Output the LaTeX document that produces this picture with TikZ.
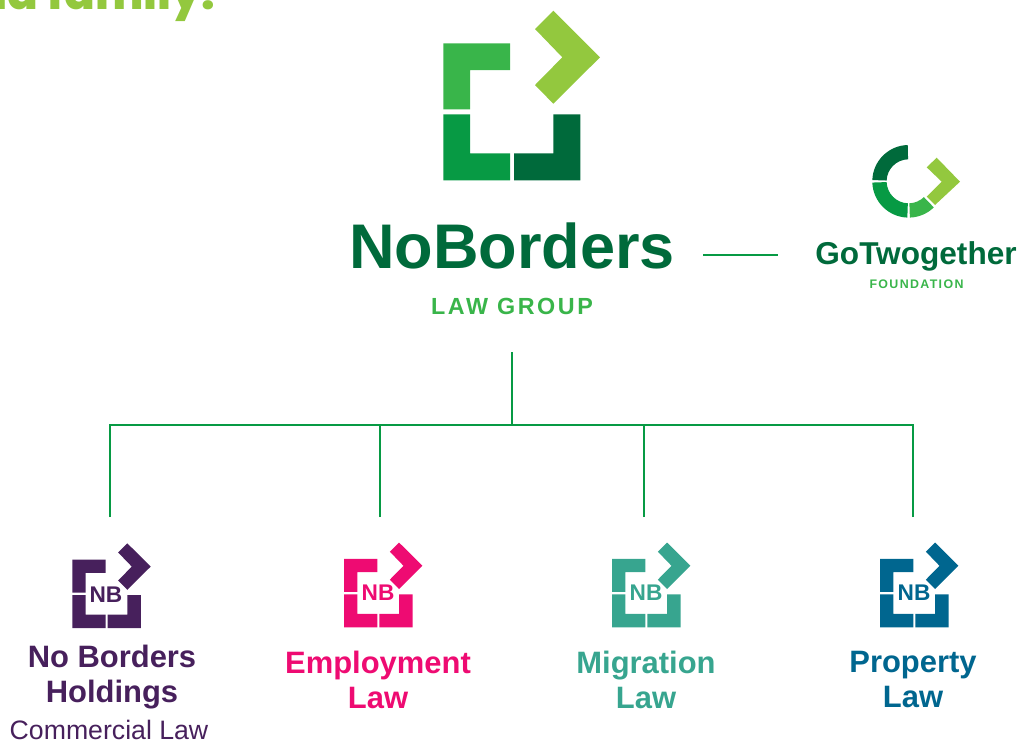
\documentclass[tikz,border=0pt]{standalone}
\usepackage{fontspec}
\setmainfont{Liberation Sans}
\newfontfamily\headfont[BoldFont={Poppins ExtraBold}]{Poppins}
\newfontfamily\spacedfont[LetterSpace=11]{Liberation Sans}
\usetikzlibrary{positioning}
\definecolor{nblime}{HTML}{93C83E}
\definecolor{nblight}{HTML}{39B54A}
\definecolor{nbmid}{HTML}{079A44}
\definecolor{nbdark}{HTML}{006A3B}
\definecolor{nbpurple}{HTML}{47205C}
\definecolor{nbpink}{HTML}{EE0B72}
\definecolor{nbteal}{HTML}{37A58F}
\definecolor{nbblue}{HTML}{00668F}

\begin{document}
\begin{tikzpicture}[x=0.75pt,y=-0.75pt]
\tikzset{
	link/.style={draw=nbmid, line width=2.2pt},
	firmlabel/.style={align=center, inner sep=0pt, font=\fontsize{23.2}{26.3}\selectfont\bfseries},
	nbtag/.style={inner sep=0pt, font=\fontsize{17}{17}\selectfont\bfseries},
	pics/bordermark/.style n args={4}{code={
		\fill[#1] (0,32.6) -- (66.7,32.6) -- (66.7,59.3) -- (26.7,59.3) -- (26.7,98.6) -- (0,98.6) -- cycle;
		\fill[#2] (0,103.6) -- (26.7,103.6) -- (26.7,142.6) -- (66.7,142.6) -- (66.7,169.6) -- (0,169.6) -- cycle;
		\fill[#3] (70.7,142.6) -- (110,142.6) -- (110,103.6) -- (137,103.6) -- (137,169.6) -- (70.7,169.6) -- cycle;
		\fill[#4] (110,0) -- (156.7,46.6) -- (110,93) -- (91.7,74.3) -- (119,46.6) -- (91.7,18.3) -- cycle;
	}},
}
\useasboundingbox (0,0) rectangle (1020,743);

\node[anchor=base east, inner sep=0pt, text=nblime, font=\fontsize{34}{34}\selectfont\headfont\bfseries] (HEADLBL) at (215,9) {nd family:};

% group logo and name
\pic at (443.3,10.7) {bordermark={nblight}{nbmid}{nbdark}{nblime}};
\node[inner sep=0pt, text=nbdark, font=\fontsize{47.3}{47.3}\selectfont\bfseries] (GROUP) at (512,246) {NoBorders};
\node[inner sep=0pt, text=nblight, font=\fontsize{17.5}{17.5}\selectfont\spacedfont\bfseries] (GROUPSUB) at (512,306) {LAW GROUP};

% foundation logo
\begin{scope}[shift={(908.6,181.3)}]
\fill[nbdark] (-91.4:36.3) arc (-91.4:-178:36.3) -- (-178:22) arc (-178:-91.4:22) -- cycle;
\fill[nbmid] (178:36.3) arc (178:92:36.3) -- (92:22) arc (92:178:22) -- cycle;
\fill[nblight] (88:36.3) arc (88:46:36.3) -- (46:22) arc (46:88:22) -- cycle;
\end{scope}
\fill[nblime] (936.7,157.7) -- (960,181.7) -- (935,205) -- (926.7,196.7) -- (941.7,181.7) -- (926.7,167.3) -- cycle;
\node[inner sep=0pt, text=nbdark, font=\fontsize{23.7}{23.7}\selectfont\bfseries] (FOUND) at (916,256) {GoTwogether};
\node[inner sep=0pt, text=nblight, font=\fontsize{9.3}{9.3}\selectfont\spacedfont\bfseries] (FOUNDSUB) at (916.5,284) {FOUNDATION};

\coordinate (LINKA) at (703,255);
\coordinate (LINKB) at (778,255);
\draw[link] (LINKA) -- (LINKB);

% tree
\coordinate (TOP) at (512,352);
\coordinate (MID) at (512,425);
\coordinate (HOLD) at (110,517);
\coordinate (EMPL) at (380,517);
\coordinate (MIGR) at (644,517);
\coordinate (PROP) at (913,517);
\draw[link] (TOP) -- (MID);
\draw[link] (HOLD) |- (MID);
\draw[link] (PROP) |- (MID);
\draw[link] (EMPL) -- (EMPL |- MID);
\draw[link] (MIGR) -- (MIGR |- MID);

% firm logos
\pic[scale=0.5] at (72.3,543.3) {bordermark={nbpurple}{nbpurple}{nbpurple}{nbpurple}};
\pic[scale=0.5] at (344,542.5) {bordermark={nbpink}{nbpink}{nbpink}{nbpink}};
\pic[scale=0.5] at (612,542.5) {bordermark={nbteal}{nbteal}{nbteal}{nbteal}};
\pic[scale=0.5] at (880,542.5) {bordermark={nbblue}{nbblue}{nbblue}{nbblue}};
\node[nbtag, text=nbpurple] (HOLDTAG) at (106,595) {NB};
\node[nbtag, text=nbpink] (EMPLTAG) at (378,593) {NB};
\node[nbtag, text=nbteal] (MIGRTAG) at (646,593) {NB};
\node[nbtag, text=nbblue] (PROPTAG) at (914,593) {NB};

\node[firmlabel, text=nbpurple] (HOLDLBL) at (112,677.5) {No Borders\\Holdings};
\node[inner sep=0pt, anchor=base, text=nbpurple, font=\fontsize{20}{20}\selectfont] (HOLDSUB) at (109,739) {Commercial Law};
\node[firmlabel, text=nbpink] (EMPLLBL) at (378,679.5) {Employment\\Law};
\node[firmlabel, text=nbteal] (MIGRLBL) at (646,679.5) {Migration\\Law};
\node[firmlabel, text=nbblue] (PROPLBL) at (913,679.5) {Property\\Law};
\end{tikzpicture}
\end{document}
